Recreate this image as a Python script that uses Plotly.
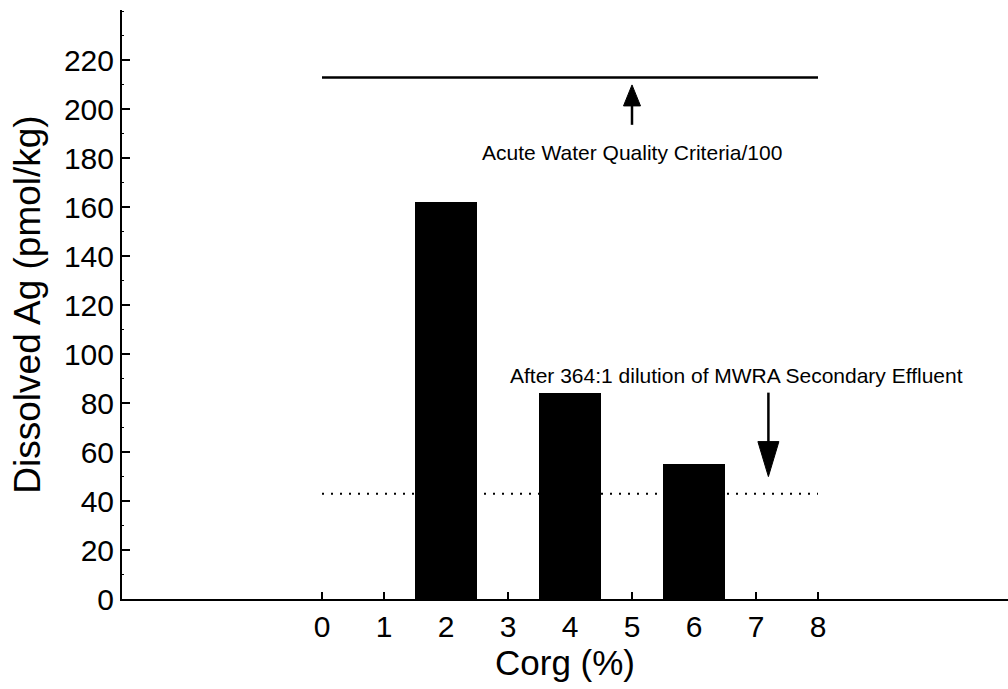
import plotly.graph_objects as go

# Organic carbon content of the sediment (%) and dissolved silver (pmol/kg)
corg = [2, 4, 6]
dissolved_ag = [162, 84, 55]

# Reference levels drawn across the 0-8 % Corg span
level_span = [0, 8]
acute_criteria_level = 213   # Acute Water Quality Criteria / 100
effluent_level = 43          # after 364:1 dilution of MWRA secondary effluent

x_ticks = [0, 1, 2, 3, 4, 5, 6, 7, 8]
y_ticks = list(range(0, 221, 20))

# Arrows: x position, tail y, tip y
criteria_arrow = (5.0, 193.7, 210.0)
effluent_arrow = (7.2, 84.3, 50.0)

W, H = 1008, 689
M = dict(l=122, r=0, t=10, b=90)
PX_PER_X = 62.0
PX_PER_Y = 2.448
x_range = [-(322 - M["l"]) / PX_PER_X, -(322 - M["l"]) / PX_PER_X + (W - M["l"] - M["r"]) / PX_PER_X]
y_range = [0, (H - M["t"] - M["b"]) / PX_PER_Y]

FONT = "Arial, Liberation Sans, sans-serif"

fig = go.Figure()

# dotted effluent level (behind the bars)
fig.add_trace(go.Scatter(
    x=level_span, y=[effluent_level] * 2, mode="lines",
    line=dict(color="black", width=2, dash="2px,7px"), hoverinfo="skip"))

# solid criteria level
fig.add_trace(go.Scatter(
    x=level_span, y=[acute_criteria_level] * 2, mode="lines",
    line=dict(color="black", width=2.5), hoverinfo="skip"))

fig.add_trace(go.Bar(
    x=corg, y=dissolved_ag, width=1.0,
    marker=dict(color="black", line=dict(width=0))))


def arrow(x, y_tail, y_tip, head_len_px, head_w_px, lw):
    """Vertical arrow drawn as a stem plus filled triangular head."""
    hl = head_len_px / PX_PER_Y
    hw = head_w_px / 2 / PX_PER_X
    sign = 1 if y_tip > y_tail else -1
    base = y_tip - sign * hl
    fig.add_shape(type="line", x0=x, x1=x, y0=y_tail, y1=base + sign * 0.5,
                  line=dict(color="black", width=lw))
    fig.add_shape(type="path",
                  path=f"M {x - hw},{base} L {x + hw},{base} L {x},{y_tip} Z",
                  fillcolor="black", line=dict(color="black", width=1))


arrow(*criteria_arrow, head_len_px=21, head_w_px=17, lw=2.5)
arrow(*effluent_arrow, head_len_px=35, head_w_px=21, lw=2.5)

fig.add_annotation(x=5.0, y=182.3, text="Acute Water Quality Criteria/100",
                   showarrow=False, font=dict(family=FONT, size=21, color="black"))
fig.add_annotation(x=6.69, y=91.2, text="After 364:1 dilution of MWRA Secondary Effluent",
                   showarrow=False, font=dict(family=FONT, size=21, color="black"))

fig.update_layout(
    width=W, height=H, margin=M,
    paper_bgcolor="white", plot_bgcolor="white",
    showlegend=False, bargap=0,
    font=dict(family=FONT, color="black"),
)

fig.update_xaxes(
    range=x_range, tickvals=x_ticks, ticktext=[str(v) for v in x_ticks],
    ticks="inside", ticklen=7, tickwidth=1.5, tickcolor="black",
    showline=True, linecolor="black", linewidth=2,
    showgrid=False, zeroline=False,
    tickfont=dict(family=FONT, size=30, color="black"),
    title=dict(text="Corg (%)", font=dict(family=FONT, size=35, color="black"), standoff=8),
)
fig.update_yaxes(
    range=y_range, tickvals=y_ticks,
    ticks="inside", ticklen=8, tickwidth=1.5, tickcolor="black",
    minor=dict(dtick=10, ticks="inside", ticklen=2, tickwidth=1, tickcolor="black"),
    showline=True, linecolor="black", linewidth=2,
    showgrid=False, zeroline=False,
    tickfont=dict(family=FONT, size=30, color="black"),
    title=dict(text="Dissolved Ag (pmol/kg)", font=dict(family=FONT, size=37, color="black"), standoff=12),
)

fig.write_html("out.html")
